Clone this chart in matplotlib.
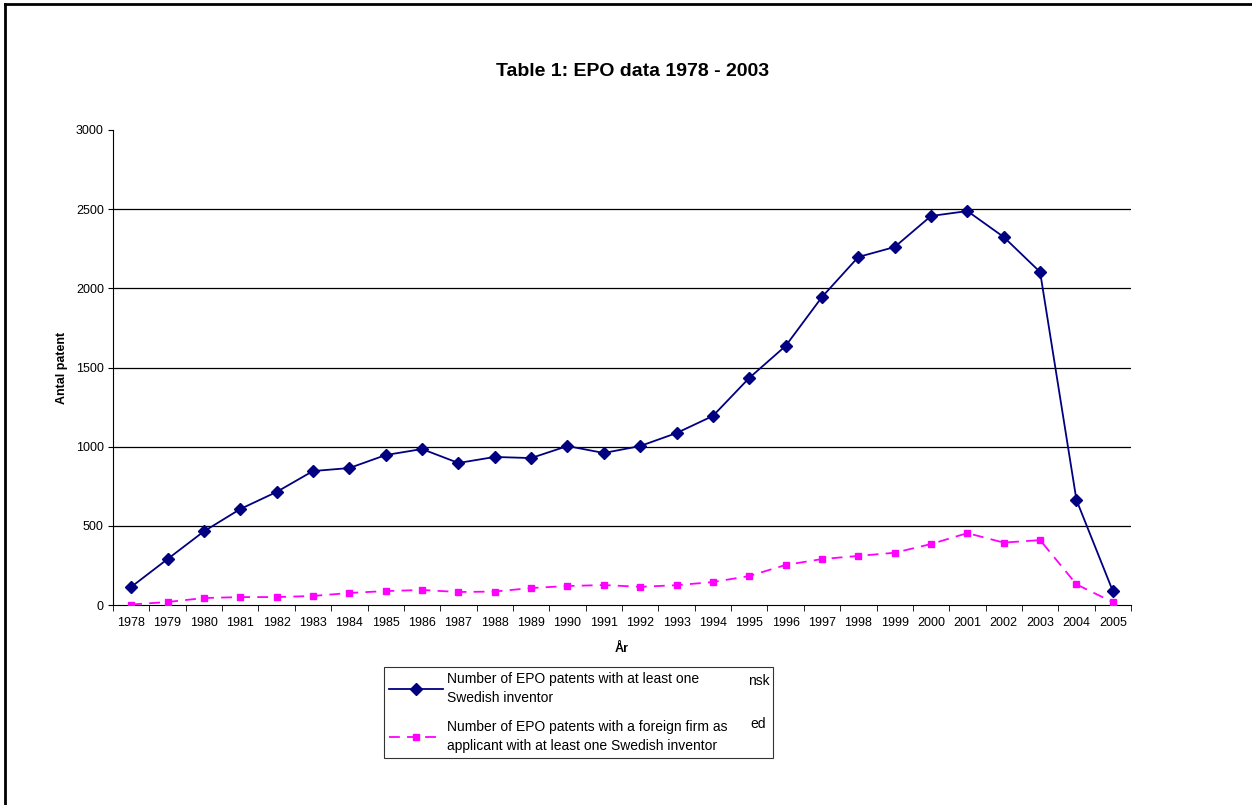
import numpy as np
import matplotlib
matplotlib.use("Agg")
import matplotlib.pyplot as plt
from matplotlib.lines import Line2D

plt.rcParams['font.family'] = ['Liberation Sans', 'DejaVu Sans']

# data
years = [str(y) for y in range(1978, 2006)]
swedish_inventor = [114, 290, 465, 606, 714, 846, 865, 947, 985, 897,
                    935, 928, 1004, 960, 1004, 1086, 1194, 1434, 1636, 1945,
                    2198, 2261, 2457, 2488, 2324, 2103, 663, 88]
foreign_firm = [3, 19, 44, 50, 50, 57, 76, 88, 95, 82,
                85, 107, 120, 126, 115, 125, 145, 183, 253, 290,
                310, 330, 385, 454, 394, 410, 130, 18]
yticks = [0, 500, 1000, 1500, 2000, 2500, 3000]

label_a = "Number of EPO patents with at least one\nSwedish inventor"
label_b = "Number of EPO patents with a foreign firm as\napplicant with at least one Swedish inventor"

W, H = 1252, 805
fig = plt.figure(figsize=(W / 100, H / 100), dpi=100)
ax = fig.add_axes([113 / W, 1 - 605 / H, (1131 - 113) / W, (605 - 130) / H])

x = np.arange(len(years))
ax.plot(x, swedish_inventor, color='#000080', lw=1.3, marker='D',
        markersize=6, label=label_a, zorder=3)
ax.plot(x, foreign_firm, color='#FF00FF', lw=1.3, ls=(0, (6, 4)),
        marker='s', markersize=5, label=label_b, zorder=3)

ax.set_xlim(-0.5, len(years) - 0.5)
ax.set_ylim(0, 3000)
ax.set_yticks(yticks)
ax.set_yticklabels([str(v) for v in yticks], fontsize=9)
ax.set_xticks(x)
ax.set_xticklabels(years, fontsize=9)
ax.set_xticks(np.arange(-0.5, len(years)), minor=True)
ax.tick_params(axis='x', which='major', length=0, pad=9)
ax.tick_params(axis='x', which='minor', length=4, direction='out', color='black')
ax.tick_params(axis='y', length=3.6, direction='out', pad=3)

for v in yticks[1:-1]:
    ax.axhline(v, color='black', lw=0.9, zorder=1)

for side in ['top', 'right']:
    ax.spines[side].set_visible(False)
ax.spines['left'].set_color('black')
ax.spines['bottom'].set_color('black')

ax.set_xlabel('År', fontsize=9, fontweight='bold', labelpad=10)
ax.set_ylabel('Antal patent', fontsize=9, fontweight='bold', labelpad=5.5)
fig.text(633 / W, 1 - 72 / H, 'Table 1: EPO data 1978 - 2003', fontsize=14,
         fontweight='bold', ha='center', va='center')

# leftover text fragments peeking out behind the legend
ax.text(770 / W, 1 - 681 / H, 'nsk', transform=fig.transFigure, fontsize=10,
        ha='right', va='center', clip_on=False, zorder=4)
ax.text(766 / W, 1 - 724 / H, 'ed', transform=fig.transFigure, fontsize=10,
        ha='right', va='center', clip_on=False, zorder=4)

leg = ax.legend(loc='upper left',
                bbox_to_anchor=(384 / W, 1 - 757 / H, (773 - 384) / W, 90 / H),
                bbox_transform=fig.transFigure, mode='expand', borderaxespad=0,
                fontsize=10, frameon=True, fancybox=False, edgecolor='black',
                facecolor='none', framealpha=None, handlelength=3.9,
                handletextpad=0.3, labelspacing=1.1, borderpad=0.35)
leg.set_zorder(5)
leg.get_frame().set_linewidth(0.8)
for t in leg.get_texts():
    t.set_linespacing(1.45)
    t.set_bbox(dict(facecolor='white', edgecolor='none', pad=1))

# outer chart border (only top and left visible)
fig.add_artist(Line2D([5 / W, 5 / W], [0, 1 - 4 / H], color='black', lw=2))
fig.add_artist(Line2D([5 / W, 1], [1 - 4 / H, 1 - 4 / H], color='black', lw=2))

fig.savefig('out.png', dpi=100)
